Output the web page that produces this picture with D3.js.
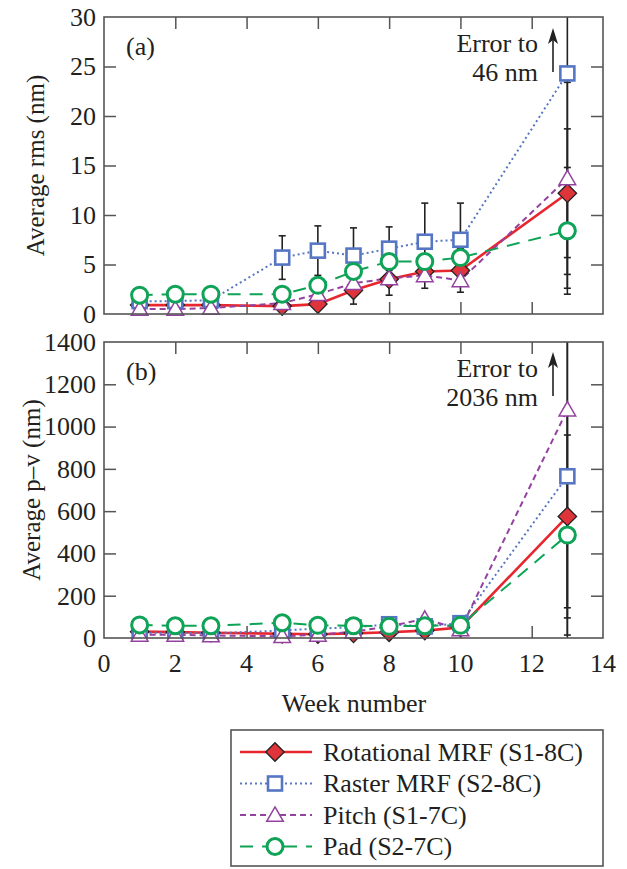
<!DOCTYPE html>
<html>
<head>
<meta charset="utf-8">
<script src="https://cdn.jsdelivr.net/npm/d3@7"></script>
<style>
  html, body { margin: 0; padding: 0; background: #fff; }
  svg { display: block; }
  text { font-family: "Liberation Serif", "Times New Roman", serif; fill: #231f20; }
</style>
</head>
<body>
<svg id="chart" width="627" height="869"></svg>
<script>
// Polishing weeks
const weeks = [1, 2, 3, 5, 6, 7, 8, 9, 10, 13];

// Series names
const seriesNames = ["Rotational MRF (S1-8C)", "Raster MRF (S2-8C)", "Pitch (S1-7C)", "Pad (S2-7C)"];

// Panel (a): average rms (nm)
const rmsRotational = [0.9, 0.9, 0.9, 0.8, 1.0, 2.4, 3.5, 4.3, 4.4, 12.2];
const rmsRaster     = [1.3, 1.3, 1.4, 5.7, 6.4, 5.9, 6.6, 7.3, 7.5, 24.3];
const rmsPitch      = [0.5, 0.5, 0.6, 1.1, 2.0, 3.1, 3.6, 3.9, 3.4, 13.7];
const rmsPad        = [1.9, 2.0, 2.0, 2.0, 2.9, 4.3, 5.3, 5.3, 5.7, 8.4];

// Panel (a): rms error (half-width, nm)
const rmsErrRotational = [0, 0, 0, 0, 0.4, 1.4, 1.6, 1.7, 2.2, 6.5];
const rmsErrRaster     = [0, 0, 0, 2.2, 2.5, 2.8, 2.2, 3.9, 3.7, 21.7];
const rmsErrPitch      = [0, 0, 0, 0, 0, 0, 0, 0, 0, 9.7];
const rmsErrPad        = [0, 0, 0, 0, 0, 0, 0, 0, 0, 6.4];

// Panel (b): average p–v (nm)
const pvRotational = [30, 28, 25, 20, 18, 22, 27, 35, 50, 575];
const pvRaster     = [25, 25, 22, 35, 45, 50, 65, 55, 70, 765];
const pvPitch      = [15, 15, 12, 8, 15, 30, 55, 90, 40, 1080];
const pvPad        = [62, 58, 58, 72, 60, 58, 55, 58, 60, 487];

// Panel (b): p–v error (half-width, nm)
const pvErrRotational = [0, 0, 0, 0, 0, 0, 0, 0, 0, 480];
const pvErrRaster     = [0, 0, 0, 0, 0, 0, 0, 0, 0, 1271];
const pvErrPitch      = [0, 0, 0, 0, 0, 0, 0, 0, 0, 937];
const pvErrPad        = [0, 0, 0, 0, 0, 0, 0, 0, 0, 473];

// Axis ticks
const xTicks = [0, 2, 4, 6, 8, 10, 12, 14];
const rmsTicks = [0, 5, 10, 15, 20, 25, 30];
const pvTicks = [0, 200, 400, 600, 800, 1000, 1200, 1400];

// Series styling
const styles = [
  { color: "#e8262f", dash: null, width: 2.6, marker: "diamond" },
  { color: "#5676c4", dash: "2,3", width: 2, marker: "square" },
  { color: "#93429f", dash: "6,4", width: 2, marker: "triangle" },
  { color: "#0ea356", dash: "13,9", width: 2, marker: "circle" }
];

const svg = d3.select("#chart");
const frameColor = "#555";
const left = 104, right = 603;

const x = d3.scaleLinear().domain([0, 14]).range([left, right]);

function drawMarker(g, type, cx, cy, st) {
  if (type === "diamond") {
    g.append("path")
      .attr("d", d3.symbol().type(d3.symbolSquare).size(170)())
      .attr("transform", `translate(${cx},${cy}) rotate(45)`)
      .attr("fill", "#e0343b").attr("stroke", "#222").attr("stroke-width", 1.3);
  } else if (type === "square") {
    g.append("rect").attr("x", cx - 7).attr("y", cy - 7).attr("width", 14).attr("height", 14)
      .attr("fill", "#fff").attr("stroke", st.color).attr("stroke-width", 2.6);
  } else if (type === "triangle") {
    g.append("path")
      .attr("d", d3.symbol().type(d3.symbolTriangle).size(120)())
      .attr("transform", `translate(${cx},${cy + 1.5})`)
      .attr("fill", "#fff").attr("stroke", st.color).attr("stroke-width", 1.5);
  } else {
    g.append("circle").attr("cx", cx).attr("cy", cy).attr("r", 8)
      .attr("fill", "#fff").attr("stroke", st.color).attr("stroke-width", 3);
  }
}

function drawPanel(opts) {
  const { top, bottom, domain, ticks, series, errors, label, ylabel, ylabelX, errText, errY, arrowTop, clipId, showXLabels } = opts;
  const y = d3.scaleLinear().domain(domain).range([bottom, top]);
  const g = svg.append("g");

  svg.append("clipPath").attr("id", clipId)
    .append("rect").attr("x", left).attr("y", top).attr("width", right - left).attr("height", bottom - top);

  // Inward ticks on all four sides
  const tickLen = 12;
  const axL = d3.axisRight(y).tickValues(ticks.slice(1, -1)).tickSize(tickLen).tickFormat("");
  const axR = d3.axisLeft(y).tickValues(ticks.slice(1, -1)).tickSize(tickLen).tickFormat("");
  const axT = d3.axisBottom(x).tickValues(xTicks.slice(1, -1)).tickSize(tickLen).tickFormat("");
  const axB = d3.axisTop(x).tickValues(xTicks.slice(1, -1)).tickSize(tickLen).tickFormat("");
  [[axL, `translate(${left},0)`], [axR, `translate(${right},0)`], [axT, `translate(0,${top})`], [axB, `translate(0,${bottom})`]]
    .forEach(([ax, tr]) => {
      const a = g.append("g").attr("transform", tr).call(ax);
      a.select(".domain").remove();
      a.selectAll("line").attr("stroke", frameColor).attr("stroke-width", 1.5);
    });

  // Y tick labels
  g.append("g").selectAll("text").data(ticks).join("text")
    .attr("x", 96).attr("y", d => y(d)).attr("dy", "0.34em")
    .attr("text-anchor", "end").attr("font-size", 26).text(d => d);

  if (showXLabels) {
    g.append("g").selectAll("text").data(xTicks).join("text")
      .attr("x", d => x(d)).attr("y", bottom + 34)
      .attr("text-anchor", "middle").attr("font-size", 26).text(d => d);
  }

  // Y axis title
  g.append("text")
    .attr("transform", `translate(${ylabelX},${(top + bottom) / 2}) rotate(-90)`)
    .attr("text-anchor", "middle").attr("font-size", 25).text(ylabel);

  const plot = g.append("g").attr("clip-path", `url(#${clipId})`);

  // Error bars
  series.forEach((vals, si) => {
    vals.forEach((v, i) => {
      const e = errors[si][i];
      if (!e) return;
      const cx = x(weeks[i]);
      const y1 = y(v - e), y2 = y(v + e);
      plot.append("line").attr("x1", cx).attr("x2", cx).attr("y1", y1).attr("y2", y2)
        .attr("stroke", "#222").attr("stroke-width", 1.6);
      [y1, y2].forEach(yy => plot.append("line")
        .attr("x1", cx - 3.5).attr("x2", cx + 3.5).attr("y1", yy).attr("y2", yy)
        .attr("stroke", "#222").attr("stroke-width", 1.6));
    });
  });

  // Lines
  series.forEach((vals, si) => {
    const st = styles[si];
    const line = d3.line().x((d, i) => x(weeks[i])).y(d => y(d));
    plot.append("path").datum(vals).attr("d", line)
      .attr("fill", "none").attr("stroke", st.color).attr("stroke-width", st.width)
      .attr("stroke-dasharray", st.dash);
  });

  // Markers
  series.forEach((vals, si) => {
    const st = styles[si];
    const mg = g.append("g");
    vals.forEach((v, i) => drawMarker(mg, st.marker, x(weeks[i]), y(v), st));
  });

  // Frame
  g.append("rect").attr("x", left).attr("y", top).attr("width", right - left).attr("height", bottom - top)
    .attr("fill", "none").attr("stroke", frameColor).attr("stroke-width", 1.6);

  // Panel label
  g.append("text").attr("x", 126).attr("y", top + 38).attr("font-size", 26).text(label);

  // Off-scale error note with arrow
  g.append("text").attr("x", 538).attr("y", errY).attr("text-anchor", "end").attr("font-size", 26).text("Error to");
  g.append("text").attr("x", 538).attr("y", errY + 29).attr("text-anchor", "end").attr("font-size", 26).text(errText);
  const ax = 553;
  g.append("line").attr("x1", ax).attr("x2", ax).attr("y1", arrowTop + 12).attr("y2", arrowTop + 44)
    .attr("stroke", "#222").attr("stroke-width", 1.6);
  g.append("path")
    .attr("d", `M${ax},${arrowTop} L${ax - 5},${arrowTop + 16} L${ax},${arrowTop + 12} L${ax + 5},${arrowTop + 16} Z`)
    .attr("fill", "#222");
}

drawPanel({
  top: 17, bottom: 314, domain: [0, 30], ticks: rmsTicks,
  series: [rmsRotational, rmsRaster, rmsPitch, rmsPad],
  errors: [rmsErrRotational, rmsErrRaster, rmsErrPitch, rmsErrPad],
  label: "(a)", ylabel: "Average rms (nm)", ylabelX: 44,
  errText: "46 nm", errY: 52, arrowTop: 28, clipId: "clipA", showXLabels: false
});

drawPanel({
  top: 342, bottom: 638, domain: [0, 1400], ticks: pvTicks,
  series: [pvRotational, pvRaster, pvPitch, pvPad],
  errors: [pvErrRotational, pvErrRaster, pvErrPitch, pvErrPad],
  label: "(b)", ylabel: "Average p–v (nm)", ylabelX: 40,
  errText: "2036 nm", errY: 377, arrowTop: 352, clipId: "clipB", showXLabels: true
});

// X axis title
svg.append("text").attr("x", 354).attr("y", 712).attr("text-anchor", "middle")
  .attr("font-size", 26).text("Week number");

// Legend
const lg = svg.append("g");
lg.append("rect").attr("x", 231).attr("y", 730).attr("width", 372).attr("height", 136)
  .attr("fill", "#fff").attr("stroke", frameColor).attr("stroke-width", 1.6);
seriesNames.forEach((name, i) => {
  const st = styles[i];
  const cy = 752 + i * 31.5;
  lg.append("line").attr("x1", 240).attr("x2", 312).attr("y1", cy).attr("y2", cy)
    .attr("stroke", st.color).attr("stroke-width", st.width).attr("stroke-dasharray", st.dash);
  drawMarker(lg, st.marker, 275, cy, st);
  lg.append("text").attr("x", 323).attr("y", cy).attr("dy", "0.34em")
    .attr("font-size", 26).text(name);
});
</script>
</body>
</html>
